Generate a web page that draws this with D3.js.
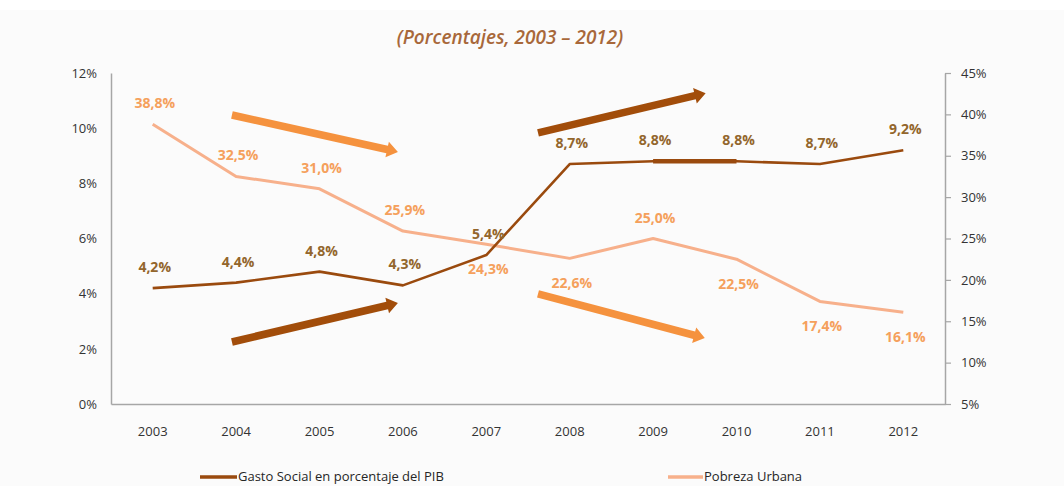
<!DOCTYPE html>
<html>
<head>
<meta charset="utf-8">
<script src="https://cdn.jsdelivr.net/npm/d3@7/dist/d3.min.js"></script>
<style>
  html, body { margin: 0; padding: 0; background: #fbfbfb; }
  svg { display: block; }
  text { font-family: "Open Sans", "Noto Sans", sans-serif; }
</style>
</head>
<body>
<svg id="chart" width="1064" height="486"></svg>
<script>
// Data
const years = ["2003","2004","2005","2006","2007","2008","2009","2010","2011","2012"];
const gastoSocial = [4.2, 4.4, 4.8, 4.3, 5.4, 8.7, 8.8, 8.8, 8.7, 9.2];
const pobrezaUrbana = [38.8, 32.5, 31.0, 25.9, 24.3, 22.6, 25.0, 22.5, 17.4, 16.1];
const leftTicks = [0, 2, 4, 6, 8, 10, 12];
const rightTicks = [5, 10, 15, 20, 25, 30, 35, 40, 45];
const seriesNames = ["Gasto Social en porcentaje del PIB", "Pobreza Urbana"];
// label placement: +1 above the point, -1 below
const pobrezaLabelSide = [1, 1, 1, 1, -1, -1, 1, -1, -1, -1];
// trend arrows: [startIndex, startValue, endIndex, endValue] on category / left-axis units
const trendArrows = [
  { from: [0.95, 10.48], to: [2.94, 9.14], kind: "pobreza" },
  { from: [0.95, 2.25], to: [2.94, 3.66], kind: "gasto" },
  { from: [4.62, 9.83], to: [6.63, 11.27], kind: "gasto" },
  { from: [4.62, 3.99], to: [6.62, 2.39], kind: "pobreza" }
];

const fmt = v => v.toFixed(1).replace(".", ",") + "%";

const colors = {
  gasto: "#9a4a0e",
  pobreza: "#f7b08b",
  gastoLabel: "#93662c",
  pobrezaLabel: "#f5a05c",
  arrowPobreza: "#f5923e",
  arrowGasto: "#a24d0a",
  axis: "#a6a6a6",
  tick: "#333333",
  title: "#a8683a"
};

const svg = d3.select("#chart");
const W = 1064, H = 486;
const plot = { left: 111, right: 945, top: 73, bottom: 404 };

svg.append("rect").attr("x", 0).attr("y", 0).attr("width", W).attr("height", 10).attr("fill", "#ffffff");

const x = d3.scaleBand().domain(years).range([plot.left, plot.right]);
const xc = i => x(years[0]) + x.bandwidth() / 2 + i * x.step();
const yL = d3.scaleLinear().domain([0, 12]).range([plot.bottom, plot.top]);
const yR = d3.scaleLinear().domain([5, 45]).range([plot.bottom, plot.top]);

// Title
svg.append("text")
  .attr("x", 510).attr("y", 44)
  .attr("text-anchor", "middle")
  .attr("font-size", 19).attr("font-style", "italic").attr("font-weight", 600)
  .attr("fill", colors.title)
  .text("(Porcentajes, 2003 \u2013 2012)");

// Axes
const gx = svg.append("g").attr("transform", `translate(0,${plot.bottom})`)
  .call(d3.axisBottom(x).tickSize(0).tickPadding(23));
gx.select(".domain").attr("stroke", colors.axis).attr("stroke-width", 1.5);
gx.selectAll("text").attr("font-size", 13).attr("fill", colors.tick).attr("font-family", "Open Sans, sans-serif");

const gl = svg.append("g").attr("transform", `translate(${plot.left},0)`)
  .call(d3.axisLeft(yL).tickValues(leftTicks).tickSize(0).tickPadding(14).tickFormat(d => d + "%"));
gl.select(".domain").attr("stroke", colors.axis).attr("stroke-width", 1.5);
gl.selectAll("text").attr("font-size", 13).attr("fill", colors.tick).attr("font-family", "Open Sans, sans-serif");

const gr = svg.append("g").attr("transform", `translate(${plot.right},0)`)
  .call(d3.axisRight(yR).tickValues(rightTicks).tickSize(6).tickSizeOuter(0).tickPadding(10).tickFormat(d => d + "%"));
gr.select(".domain").attr("stroke", colors.axis).attr("stroke-width", 1.5);
gr.selectAll(".tick line").attr("stroke", colors.axis).attr("stroke-width", 1.2);
gr.selectAll("text").attr("font-size", 13).attr("fill", colors.tick).attr("font-family", "Open Sans, sans-serif");

// Lines
const lineL = d3.line().x((d, i) => xc(i)).y(d => yL(d));
const lineR = d3.line().x((d, i) => xc(i)).y(d => yR(d));

svg.append("path").datum(pobrezaUrbana)
  .attr("d", lineR).attr("fill", "none")
  .attr("stroke", colors.pobreza).attr("stroke-width", 3).attr("stroke-linejoin", "round");

svg.append("path").datum(gastoSocial)
  .attr("d", lineL).attr("fill", "none")
  .attr("stroke", colors.gasto).attr("stroke-width", 2.6).attr("stroke-linejoin", "round");

// emphasised 2009-2010 stretch
svg.append("line")
  .attr("x1", xc(6)).attr("y1", yL(gastoSocial[6]))
  .attr("x2", xc(7)).attr("y2", yL(gastoSocial[7]))
  .attr("stroke", colors.gasto).attr("stroke-width", 4.5);

// Value labels
svg.append("g").selectAll("text").data(gastoSocial).join("text")
  .attr("x", (d, i) => xc(i) + 2)
  .attr("y", (d, i) => yL(d) - 16)
  .attr("text-anchor", "middle")
  .attr("font-size", 14).attr("font-weight", 700)
  .attr("fill", colors.gastoLabel)
  .text(fmt);

svg.append("g").selectAll("text").data(pobrezaUrbana).join("text")
  .attr("x", (d, i) => xc(i) + 2)
  .attr("y", (d, i) => pobrezaLabelSide[i] > 0 ? yR(d) - 16 : yR(d) + 30)
  .attr("text-anchor", "middle")
  .attr("font-size", 14).attr("font-weight", 700)
  .attr("fill", colors.pobrezaLabel)
  .text(fmt);

// Trend arrows
function drawArrow(a) {
  const x1 = xc(a.from[0]), y1 = yL(a.from[1]);
  const x2 = xc(a.to[0]), y2 = yL(a.to[1]);
  const ang = Math.atan2(y2 - y1, x2 - x1);
  const len = Math.hypot(x2 - x1, y2 - y1);
  const sw = 3.8, hw = 8, hl = 11;
  const pts = [
    [0, -sw], [len - hl, -sw], [len - hl, -hw], [len, 0],
    [len - hl, hw], [len - hl, sw], [0, sw]
  ];
  svg.append("polygon")
    .attr("points", pts.map(p => p.join(",")).join(" "))
    .attr("transform", `translate(${x1},${y1}) rotate(${ang * 180 / Math.PI})`)
    .attr("fill", a.kind === "gasto" ? colors.arrowGasto : colors.arrowPobreza);
}
trendArrows.forEach(drawArrow);

// Legend
const legend = svg.append("g");
const legendItems = [
  { name: seriesNames[0], color: colors.gasto, x: 200, w: 37 },
  { name: seriesNames[1], color: colors.pobreza, x: 668, w: 35 }
];
legendItems.forEach(it => {
  legend.append("line")
    .attr("x1", it.x).attr("x2", it.x + it.w)
    .attr("y1", 477).attr("y2", 477)
    .attr("stroke", it.color).attr("stroke-width", 3.5);
  legend.append("text")
    .attr("x", it.x + it.w + 1).attr("y", 481)
    .attr("font-size", 13).attr("fill", "#262626")
    .text(it.name);
});
</script>
</body>
</html>
